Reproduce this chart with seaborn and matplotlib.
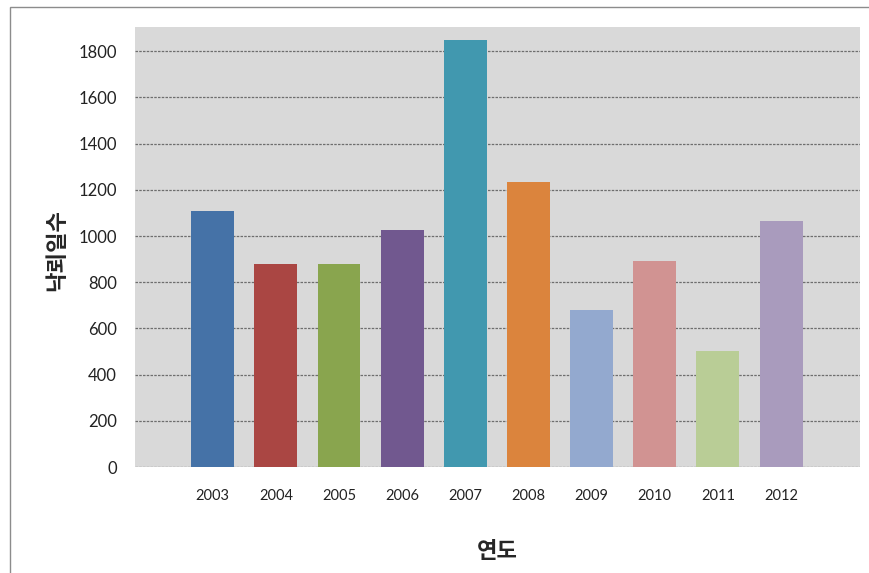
import matplotlib
matplotlib.use("Agg")
from matplotlib import pyplot as plt
from matplotlib.patches import Rectangle
import seaborn as sns
import pandas as pd

years = ["2003", "2004", "2005", "2006", "2007", "2008", "2009", "2010", "2011", "2012"]
days = [1110, 877, 881, 1027, 1848, 1233, 679, 893, 502, 1066]
bar_colors = ["#4572A7", "#AA4643", "#89A54E", "#71588F", "#4198AF",
              "#DB843D", "#93A9CF", "#D19392", "#B9CD96", "#A99BBD"]
y_ticks = [0, 200, 400, 600, 800, 1000, 1200, 1400, 1600, 1800]

df = pd.DataFrame({"year": years, "days": days})

sns.set_style("white")
plt.rcParams['font.family'] = ['Lato', 'Noto Sans CJK KR', 'DejaVu Sans']

fig = plt.figure(figsize=(8.69, 5.73), dpi=100)
ax = fig.add_axes([135 / 869, 1 - 467 / 573, (860 - 135) / 869, (467 - 27) / 573])
ax.set_facecolor("#D9D9D9")

sns.barplot(data=df, x="year", y="days", hue="year", palette=bar_colors,
            width=0.68, legend=False, ax=ax, zorder=3, saturation=1, linewidth=0)

ax.set_xlim(-1.23, 10.25)
ax.set_ylim(0, 1905)
ax.set_yticks(y_ticks)
ax.yaxis.grid(True, linestyle=(0, (2, 1)), color="#6E6E6E", linewidth=0.9, zorder=1)
ax.set_axisbelow(True)
for s in ax.spines.values():
    s.set_visible(False)
ax.tick_params(axis="y", length=0, labelsize=12, pad=13, colors="#222222")
ax.tick_params(axis="x", length=0, labelsize=10.5, pad=16, colors="#222222")

ax.set_ylabel("")
ax.set_xlabel("")
fig.text(57 / 869, 1 - 250 / 573, "낙뢰일수", rotation=90, ha="center", va="center",
         fontsize=16, fontweight="bold", family=['Noto Sans CJK KR'])
fig.text(497 / 869, 1 - 552 / 573, "연도", ha="center", va="center",
         fontsize=16, fontweight="bold", family=['Noto Sans CJK KR'])

# outer chart frame
fig.patches.append(Rectangle((10 / 869, -0.05), 1.0, 1 - 7 / 573 + 0.05,
                             transform=fig.transFigure, fill=False,
                             edgecolor="#8C8C8C", linewidth=1))

fig.savefig("out.png", dpi=100)
